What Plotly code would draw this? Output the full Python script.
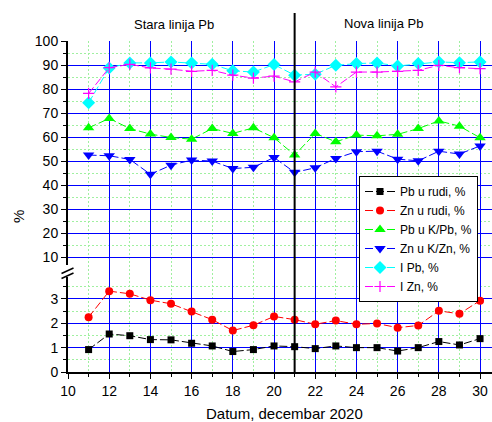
import plotly.graph_objects as go

days = list(range(11, 31))
pb_ruda = [0.92, 1.56, 1.49, 1.33, 1.32, 1.18, 1.07, 0.84, 0.92, 1.07,
           1.04, 0.96, 1.07, 1.00, 1.00, 0.86, 1.00, 1.25, 1.11, 1.37]
zn_ruda = [2.25, 3.32, 3.21, 2.95, 2.80, 2.48, 2.15, 1.70, 1.92, 2.28,
           2.15, 1.96, 2.11, 1.96, 1.99, 1.82, 1.91, 2.51, 2.39, 2.93]
pb_kpb = [63.9, 67.8, 63.6, 61.3, 59.9, 59.2, 63.6, 61.6, 63.9, 59.8,
          52.6, 61.6, 58.1, 60.9, 60.6, 61.2, 63.6, 66.8, 64.6, 59.8]
zn_kzn = [52.6, 52.3, 50.8, 44.6, 48.4, 50.5, 50.1, 47.0, 47.5, 51.6,
          45.4, 47.3, 51.2, 54.0, 54.2, 50.9, 50.2, 54.2, 53.0, 56.4]
i_pb = [74.3, 88.8, 90.9, 90.9, 91.3, 90.9, 90.3, 87.6, 87.1, 90.2,
        85.8, 86.2, 89.9, 90.6, 90.9, 89.6, 90.6, 91.3, 91.0, 91.3]
i_zn = [78.2, 88.9, 90.3, 88.8, 88.3, 87.4, 87.8, 85.8, 84.6, 85.4,
        83.0, 87.1, 80.9, 87.1, 87.1, 87.4, 87.8, 89.9, 88.9, 88.5]

names = ["Pb u rudi, %", "Zn u rudi, %", "Pb u K/Pb, %", "Zn u K/Zn, %", "I Pb, %", "I Zn, %"]
line_switch_day = 21

W, H = 492, 422
L, R, T, B = 68, 0, 41, 50
pw, ph = W - L - R, H - T - B

def px(xp):
    return (xp - L) / pw

def py(yp):
    return (H - B - yp) / ph

FONT = "Arial, Liberation Sans, sans-serif"
DASH = "8px,3px"

fig = go.Figure()
# dummy trace for full-height x grid
fig.add_trace(go.Scatter(x=[], y=[], xaxis="x", yaxis="y", showlegend=False, hoverinfo="skip"))

series = [
    (pb_ruda, "y2", "black", "square", 7),
    (zn_ruda, "y2", "red", "circle", 8),
    (pb_kpb, "y3", "#00FF00", "triangle-up", 10),
    (zn_kzn, "y3", "#0000FF", "triangle-down", 10),
    (i_pb, "y3", "#00FFFF", "diamond", 10),
    (i_zn, "y3", "#FF00FF", "cross-thin", 8),
]
for (vals, ya, col, sym, sz), nm in zip(series, names):
    mk = dict(color=col, symbol=sym, size=sz)
    if sym == "cross-thin":
        mk["line"] = dict(color=col, width=1.2)
    fig.add_trace(go.Scatter(
        x=days, y=vals, name=nm, xaxis="x", yaxis=ya, mode="lines+markers",
        line=dict(color=col, width=1, dash=DASH), marker=mk))

grid_major = "#0000FF"
grid_minor = "#A0F0A0"

fig.update_layout(
    width=W, height=H, autosize=False,
    margin=dict(l=L, r=R, t=T, b=B, pad=0, autoexpand=False),
    paper_bgcolor="white", plot_bgcolor="white",
    font=dict(family=FONT, size=14, color="black"),
    xaxis=dict(range=[10, 30.58], dtick=2, tick0=10, anchor="y2",
               showgrid=True, gridcolor=grid_major, gridwidth=1,
               showline=True, linecolor="black", linewidth=2,
               ticks="outside", ticklen=5, tickwidth=1, tickcolor="black",
               zeroline=False,
               minor=dict(dtick=1, tick0=10, showgrid=True, gridcolor=grid_minor,
                          griddash="2px,2px", ticks="outside", ticklen=3, tickcolor="black")),
    yaxis=dict(domain=[0, 1], range=[0, 1], visible=False, showgrid=False, anchor="x"),
    yaxis2=dict(domain=[0, py(277)], range=[0, 3.9], dtick=1, tick0=0, anchor="x",
                showgrid=True, gridcolor=grid_major, gridwidth=1, zeroline=False,
                showline=True, linecolor="black", linewidth=2,
                ticks="outside", ticklen=5, tickwidth=1, tickcolor="black",
                minor=dict(dtick=0.5, showgrid=True, gridcolor=grid_minor,
                           griddash="2px,2px", ticks="outside", ticklen=3, tickcolor="black")),
    yaxis3=dict(domain=[py(265), 1], range=[6.9, 100], dtick=10, tick0=0, anchor="x",
                showgrid=True, gridcolor=grid_major, gridwidth=1, zeroline=False,
                showline=True, linecolor="black", linewidth=2,
                ticks="outside", ticklen=5, tickwidth=1, tickcolor="black",
                minor=dict(dtick=5, showgrid=True, gridcolor=grid_minor,
                           griddash="2px,2px", ticks="outside", ticklen=3, tickcolor="black")),
    legend=dict(x=px(359), y=py(176), xanchor="left", yanchor="top",
                bgcolor="white", bordercolor="black", borderwidth=1,
                font=dict(family=FONT, size=12, color="black"),
                itemwidth=30, tracegroupgap=0),
    showlegend=True,
)

# vertical separator line at day 21
fig.add_shape(type="line", xref="x", yref="paper", x0=line_switch_day, x1=line_switch_day,
              y0=0, y1=py(13), line=dict(color="black", width=2), layer="above")

# axis break marks
for dy in (0, 5):
    fig.add_shape(type="line", xref="paper", yref="paper",
                  x0=px(61.5), y0=py(273.5 + dy), x1=px(73.5), y1=py(268 + dy),
                  line=dict(color="black", width=1.5), layer="above")

fig.add_annotation(text="Stara linija Pb", xref="paper", yref="paper",
                   x=px(174), y=py(24), xanchor="center", yanchor="middle",
                   showarrow=False, font=dict(size=13))
fig.add_annotation(text="Nova linija Pb", xref="paper", yref="paper",
                   x=px(384), y=py(23), xanchor="center", yanchor="middle",
                   showarrow=False, font=dict(size=13))
fig.add_annotation(text="Datum, decembar 2020", xref="paper", yref="paper",
                   x=px(284), y=py(403), yanchor="top", xanchor="center",
                   showarrow=False, font=dict(size=15))
fig.add_annotation(text="%", xref="paper", yref="paper", textangle=-90,
                   x=px(18), y=py(217), xanchor="center", yanchor="middle",
                   showarrow=False, font=dict(size=15))

fig.write_html("out.html", config={"displayModeBar": False},
               post_script="document.body.style.margin='0';document.body.style.overflow='hidden';")
